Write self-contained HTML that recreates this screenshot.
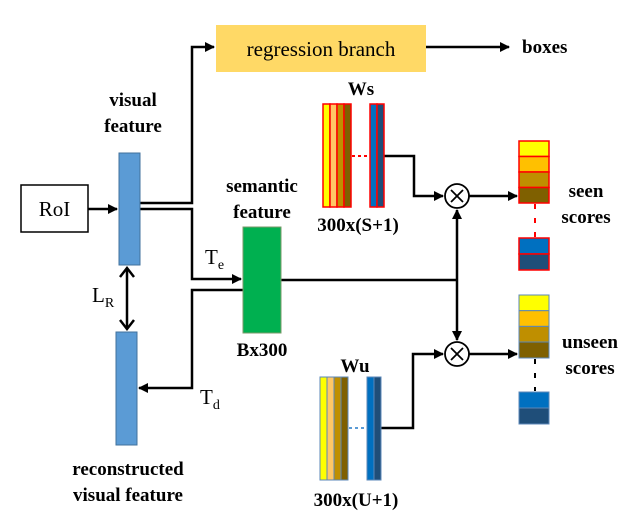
<!DOCTYPE html>
<html><head><style>
html,body{margin:0;padding:0;background:#fff;}
svg{display:block;}
.b{font-family:"Liberation Serif",serif;font-weight:bold;font-size:19px;}
.r{font-family:"Liberation Serif",serif;font-size:21px;}
</style></head><body>
<svg width="628" height="520" viewBox="0 0 628 520" xmlns="http://www.w3.org/2000/svg">
<defs>
<marker id="a" markerWidth="10" markerHeight="10" refX="9" refY="5" orient="auto" markerUnits="userSpaceOnUse">
<path d="M0,0 L10,5 L0,10 z" fill="#000"/></marker>
</defs>
<g stroke="#000" stroke-width="2.5" fill="none">
<line x1="88" y1="209" x2="117" y2="209" marker-end="url(#a)"/>
<polyline points="140,203 192,203 192,47 214,47" marker-end="url(#a)"/>
<line x1="426" y1="47" x2="509" y2="47" marker-end="url(#a)"/>
<polyline points="140,209 192,209 192,279 241,279" marker-end="url(#a)"/>
<polyline points="243,290 192,290 192,388 139,388" marker-end="url(#a)"/>
<line x1="127" y1="270" x2="127" y2="327"/>
<polyline points="120,277 127,268 134,277"/>
<polyline points="120,320 127,329 134,320"/>
<line x1="281" y1="280" x2="457" y2="280"/>
<line x1="457" y1="280" x2="457" y2="210" marker-end="url(#a)"/>
<line x1="457" y1="280" x2="457" y2="340" marker-end="url(#a)"/>
<polyline points="384,156 414,156 414,196 443,196" marker-end="url(#a)"/>
<line x1="469" y1="196" x2="517" y2="196" marker-end="url(#a)"/>
<polyline points="381,428 413,428 413,354 443,354" marker-end="url(#a)"/>
<line x1="469" y1="354" x2="517" y2="354" marker-end="url(#a)"/>
</g>
<g stroke="#000" stroke-width="1.8" fill="#fff">
<circle cx="457" cy="196" r="12"/>
<circle cx="457" cy="354" r="12"/>
</g>
<g stroke="#000" stroke-width="1.8">
<line x1="451" y1="190" x2="463" y2="202"/><line x1="463" y1="190" x2="451" y2="202"/>
<line x1="451" y1="348" x2="463" y2="360"/><line x1="463" y1="348" x2="451" y2="360"/>
</g>
<rect x="21" y="185" width="67" height="47" fill="#fff" stroke="#000" stroke-width="1.5"/>
<text x="54.5" y="216" class="r" text-anchor="middle">RoI</text>
<rect x="119" y="153" width="21" height="112" fill="#5b9bd5" stroke="#41719c" stroke-width="1"/>
<rect x="116" y="332" width="21" height="113" fill="#5b9bd5" stroke="#41719c" stroke-width="1"/>
<rect x="243" y="227" width="38" height="106" fill="#00b050" stroke="#7a9a6a" stroke-width="1"/>
<rect x="216" y="25" width="210" height="47" fill="#ffd966"/>
<text x="321" y="56" class="r" text-anchor="middle" font-size="22">regression branch</text>
<text x="522" y="53" class="b">boxes</text>
<g stroke="#ff0000" stroke-width="1.5">
<rect x="323" y="104" width="7" height="103" fill="#ffff00"/>
<rect x="330" y="104" width="7" height="103" fill="#ffc766"/>
<rect x="337" y="104" width="7" height="103" fill="#bf8f00"/>
<rect x="344" y="104" width="7" height="103" fill="#7f6000"/>
<rect x="370" y="104" width="7" height="103" fill="#0070c0"/>
<rect x="377" y="104" width="7" height="103" fill="#1f4e79"/>
</g>
<line x1="352" y1="156" x2="370" y2="156" stroke="#ff0000" stroke-width="2" stroke-dasharray="3,3"/>
<g stroke="#5b87b8" stroke-width="1">
<rect x="320" y="377" width="7" height="103" fill="#ffff00"/>
<rect x="327" y="377" width="7" height="103" fill="#ffc766"/>
<rect x="334" y="377" width="7" height="103" fill="#bf8f00"/>
<rect x="341" y="377" width="7" height="103" fill="#7f6000"/>
<rect x="367" y="377" width="7" height="103" fill="#0070c0"/>
<rect x="374" y="377" width="7" height="103" fill="#1f4e79"/>
</g>
<line x1="349" y1="428" x2="367" y2="428" stroke="#5b9bd5" stroke-width="2" stroke-dasharray="3,3"/>
<g stroke="#ff0000" stroke-width="1.5">
<rect x="519" y="141" width="30" height="15.5" fill="#ffff00"/>
<rect x="519" y="156.5" width="30" height="15.5" fill="#ffc000"/>
<rect x="519" y="172" width="30" height="15.5" fill="#bf8f00"/>
<rect x="519" y="187.5" width="30" height="15.5" fill="#7f6000"/>
<rect x="519" y="238" width="30" height="16" fill="#0070c0"/>
<rect x="519" y="254" width="30" height="16" fill="#1f4e79"/>
</g>
<line x1="535" y1="204" x2="535" y2="237" stroke="#ff0000" stroke-width="2" stroke-dasharray="5,9"/>
<g stroke="#5b87b8" stroke-width="1">
<rect x="519" y="295" width="30" height="15.7" fill="#ffff00"/>
<rect x="519" y="310.7" width="30" height="15.7" fill="#ffc000"/>
<rect x="519" y="326.4" width="30" height="15.7" fill="#bf8f00"/>
<rect x="519" y="342" width="30" height="16" fill="#7f6000"/>
<rect x="519" y="392" width="30" height="16" fill="#0070c0"/>
<rect x="519" y="408" width="30" height="16" fill="#1f4e79"/>
</g>
<line x1="535" y1="359" x2="535" y2="391" stroke="#000" stroke-width="2" stroke-dasharray="5,9"/>
<g class="b" text-anchor="middle">
<text x="133" y="106">visual</text>
<text x="133" y="132">feature</text>
<text x="262" y="192">semantic</text>
<text x="262" y="218">feature</text>
<text x="262" y="356">Bx300</text>
<text x="128" y="475">reconstructed</text>
<text x="128" y="501">visual feature</text>
<text x="361" y="95">Ws</text>
<text x="358" y="231">300x(S+1)</text>
<text x="355" y="372">Wu</text>
<text x="356" y="506">300x(U+1)</text>
<text x="586" y="197">seen</text>
<text x="586" y="223">scores</text>
<text x="590" y="348">unseen</text>
<text x="590" y="374">scores</text>
</g>
<text x="92" y="302" class="r">L<tspan font-size="14" dy="5">R</tspan></text>
<text x="205" y="264" class="r">T<tspan font-size="14" dy="5">e</tspan></text>
<text x="200" y="404" class="r">T<tspan font-size="14" dy="5">d</tspan></text>
</svg>
</body></html>
